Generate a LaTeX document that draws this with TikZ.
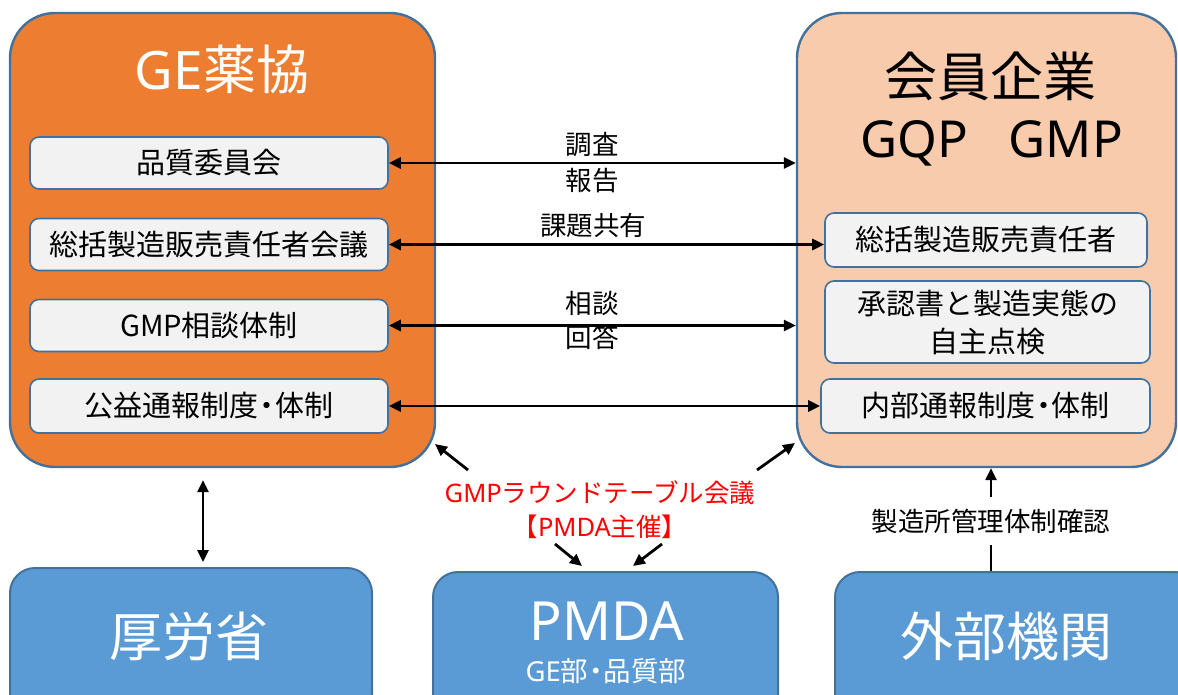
\documentclass[tikz,border=0pt]{standalone}
\usepackage{fontspec}
\setmainfont{Noto Sans}
\newfontfamily\jp{Noto Sans CJK JP}
\usetikzlibrary{arrows.meta}
\definecolor{orng}{HTML}{ED7D31}
\definecolor{peach}{HTML}{F8CBAD}
\definecolor{bord}{HTML}{41719C}
\definecolor{blu}{HTML}{5B9BD5}
\definecolor{inner}{HTML}{F2F2F2}
\definecolor{redtxt}{HTML}{FF0000}
\newcommand{\fs}[1]{\fontsize{#1}{1.2\dimexpr#1pt\relax}\selectfont}
\newcommand{\nd}{\kern-.22em・\kern-.22em}
\begin{document}
\begin{tikzpicture}[x=1pt,y=-1pt,
  bigbox/.style={draw=bord, line width=2.4pt, rounded corners=45pt, inner sep=0pt},
  inbox/.style={draw=bord, line width=1.6pt, fill=inner, rounded corners=9pt, inner sep=0pt},
  bluebox/.style={draw=bord, line width=2pt, fill=blu, rounded corners=25pt, inner sep=0pt},
  txt/.style={inner sep=0pt},
  boxtxt/.style={inner sep=0pt, font=\jp\fs{29}},
  lbl/.style={inner sep=0pt, font=\jp\fs{26.5}},
  arr/.style={line width=2.8pt, -{Triangle[length=12pt,width=11pt]}},
  darr/.style={line width=2.8pt, {Triangle[length=12pt,width=11pt]}-{Triangle[length=12pt,width=11pt]}}
]
\clip (0,0) rectangle (1178,695);
\fill[white] (0,0) rectangle (1178,695);

% big boxes
\node[bigbox, fill=orng, minimum width=425pt, minimum height=454pt] (GE) at (222.5,240) {};
\node[bigbox, fill=peach, minimum width=379pt, minimum height=454pt] (KB) at (986.5,240) {};

% titles
\node[txt, text=white, font=\fs{53}] (GEt) at (222,69.5) {GE{\jp 薬協}};
\node[txt, font=\jp\fs{53}] (KBt1) at (990,76) {会員企業};
\node[txt, font=\fs{51}, anchor=base] (KBt2) at (991.5,158) {GQP\hspace{0.8em}GMP};

% left inner boxes
\node[inbox, minimum width=358pt, minimum height=52pt] (q1) at (209,163) {};
\node[inbox, minimum width=358pt, minimum height=52pt] (q2) at (209,244.5) {};
\node[inbox, minimum width=358pt, minimum height=52pt] (q3) at (209,325.5) {};
\node[inbox, minimum width=358pt, minimum height=54pt] (q4) at (209,406) {};
\node[boxtxt] (q1t) at (q1) {品質委員会};
\node[boxtxt] (q2t) at (q2) {総括製造販売責任者会議};
\node[boxtxt] (q3t) at (q3) {GMP{\jp 相談体制}};
\node[boxtxt] (q4t) at (q4) {公益通報制度\nd 体制};

% right inner boxes
\node[inbox, minimum width=322pt, minimum height=54pt] (r1) at (986,240) {};
\node[inbox, minimum width=325pt, minimum height=82pt] (r2) at (987.5,322) {};
\node[inbox, minimum width=329pt, minimum height=54pt] (r3) at (985.5,406) {};
\node[boxtxt] (r1t) at (r1) {総括製造販売責任者};
\node[boxtxt, align=center, font=\jp\fontsize{29}{38}\selectfont] (r2t) at (r2) {承認書と製造実態の\\自主点検};
\node[boxtxt] (r3t) at (r3) {内部通報制度\nd 体制};

% horizontal arrows
\draw[darr] (q1.east) -- (q1.east -| KB.west);
\draw[darr] (q2.east) -- (q2.east -| r1.west);
\draw[darr] (q3.east) -- (q3.east -| KB.west);
\draw[darr] (q4.east) -- (q4.east -| r3.west);
\node[lbl] (l1a) at (592,145) {調査};
\node[lbl] (l1b) at (592,181) {報告};
\node[lbl] (l2a) at (593,225) {課題共有};
\node[lbl] (l3a) at (592,303) {相談};
\node[lbl] (l3b) at (592,337) {回答};

% bottom boxes
\node[bluebox, minimum width=362pt, minimum height=152pt] (MH) at (191,644) {};
\node[bluebox, minimum width=345pt, minimum height=148pt] (PM) at (605.5,646) {};
\node[bluebox, minimum width=365pt, minimum height=148pt] (EX) at (1017.5,646) {};
\node[txt, text=white, font=\jp\fs{53}] (MHt) at (189,636) {厚労省};
\node[txt, text=white, font=\fs{54}, anchor=base] (PMt) at (607,640) {PMDA};
\node[txt, text=white, font=\fs{27.5}] (PMs) at (606,671) {GE{\jp 部\nd 品質部}};
\node[txt, text=white, font=\jp\fs{53}] (EXt) at (1006,636) {外部機関};

% red label
\node[txt, text=redtxt, align=center, font=\fontsize{25.5}{34}\selectfont] (rt) at (600,510) {GMP{\jp ラウンドテーブル会議}\\{\jp 【}PMDA{\jp 主催】}};

% diagonal arrows
\coordinate (t1) at (468,470); \coordinate (h1) at (435,444);
\coordinate (t2) at (757,470); \coordinate (h2) at (795,443);
\coordinate (t3) at (555,544); \coordinate (h3) at (582,566);
\coordinate (t4) at (662,544); \coordinate (h4) at (633,566);
\draw[arr] (t1) -- (h1);
\draw[arr] (t2) -- (h2);
\draw[arr] (t3) -- (h3);
\draw[arr] (t4) -- (h4);

% left vertical arrow
\coordinate (vx) at (203,0);
\draw[darr, shorten <=12pt, shorten >=5pt] (GE.south -| vx) -- (MH.north -| vx);

% right vertical arrow with label
\node[lbl, minimum height=48pt] (cl) at (991,521) {製造所管理体制確認};
\draw[line width=2.8pt] (cl.south) -- (cl.south |- EX.north);
\draw[arr] (cl.north) -- (cl.north |- KB.south);
\end{tikzpicture}
\end{document}
